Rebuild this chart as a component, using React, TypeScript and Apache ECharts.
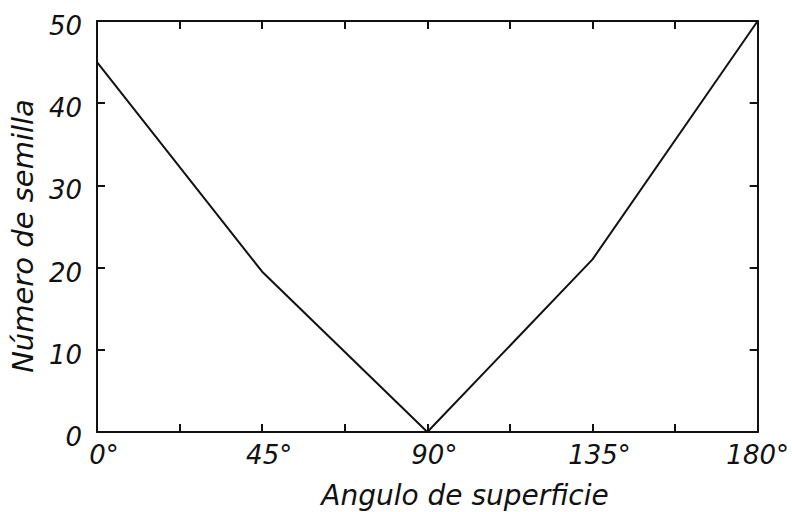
import React, { useEffect, useRef } from "react";
import * as echarts from "echarts";

// Surface angle (degrees) against number of seeds
const angles = [0, 45, 90, 135, 180];
const seeds = [45, 19.5, 0, 21, 50];
const yTicks = [0, 10, 20, 30, 40, 50];

const FONT = "'DejaVu Sans', 'Liberation Sans', sans-serif";
const INK = "#111";

export default function App() {
  const ref = useRef<HTMLDivElement>(null);

  useEffect(() => {
    if (!ref.current) return;
    const chart = echarts.init(ref.current, null, { renderer: "svg" });

    const axisLine = { show: true, onZero: false, lineStyle: { color: INK, width: 2 } };
    const tick = { show: true, inside: true, length: 8, lineStyle: { color: INK, width: 2 } };
    const labelText = {
      color: INK,
      fontFamily: FONT,
      fontStyle: "italic",
      fontSize: 26,
    };

    chart.setOption({
      animation: false,
      backgroundColor: "#fff",
      grid: { left: 97, right: 32, top: 21, bottom: 80 },
      xAxis: [
        {
          type: "value",
          min: 0,
          max: 180,
          interval: 22.5,
          axisLine,
          axisTick: tick,
          splitLine: { show: false },
          axisLabel: {
            ...labelText,
            margin: 10,
            showMinLabel: true,
            showMaxLabel: true,
            formatter: (v: number) => {
              if (v % 45 !== 0) return "";
              return v === 180 ? `{e|${v}°}` : `{s|${v}°}`;
            },
            rich: {
              s: { ...labelText, padding: [0, 0, 0, 14] },
              e: { ...labelText },
            },
          },
        },
        {
          type: "value",
          position: "top",
          min: 0,
          max: 180,
          interval: 22.5,
          axisLine,
          axisTick: tick,
          axisLabel: { show: false },
          splitLine: { show: false },
        },
      ],
      yAxis: [
        {
          type: "value",
          min: yTicks[0],
          max: yTicks[yTicks.length - 1],
          interval: 10,
          axisLine,
          axisTick: tick,
          splitLine: { show: false },
          axisLabel: {
            ...labelText,
            margin: 15,
            formatter: (v: number) => `{n|${v}}`,
            rich: {
              n: { ...labelText, padding: [10, 0, 0, 0] },
            },
          },
        },
        {
          type: "value",
          position: "right",
          min: yTicks[0],
          max: yTicks[yTicks.length - 1],
          interval: 10,
          axisLine,
          axisTick: tick,
          axisLabel: { show: false },
          splitLine: { show: false },
        },
      ],
      series: [
        {
          type: "line",
          xAxisIndex: 0,
          yAxisIndex: 0,
          data: angles.map((a, i) => [a, seeds[i]]),
          symbol: "none",
          lineStyle: { color: INK, width: 2 },
        },
      ],
      graphic: [
        {
          type: "text",
          x: 465,
          y: 495,
          style: {
            text: "Angulo de superficie",
            fill: INK,
            font: `italic 28px ${FONT}`,
            textAlign: "center",
            textVerticalAlign: "middle",
          },
        },
        {
          type: "text",
          x: 23,
          y: 236,
          rotation: Math.PI / 2,
          style: {
            text: "Número de semilla",
            fill: INK,
            font: `italic 29px ${FONT}`,
            textAlign: "center",
            textVerticalAlign: "middle",
          },
        },
      ],
    });

    return () => chart.dispose();
  }, []);

  return (
    <div
      ref={ref}
      style={{ position: "fixed", left: 0, top: 0, width: 792, height: 512 }}
    />
  );
}
